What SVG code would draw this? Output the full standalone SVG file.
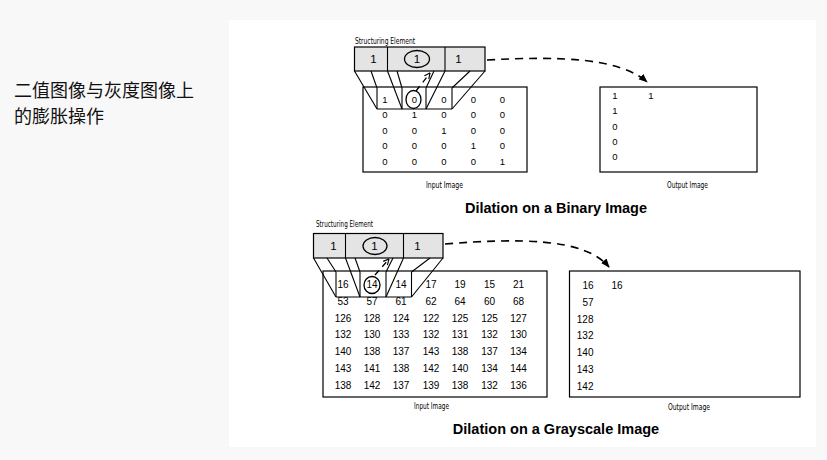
<svg xmlns="http://www.w3.org/2000/svg" width="827" height="460" viewBox="0 0 827 460">
<defs>
<style>
.bg{fill:#f8f8f8}
.panel{fill:#ffffff}
.box{fill:#ffffff;stroke:#000;stroke-width:1.2}
.se{fill:#e4e4e4;stroke:#000;stroke-width:1.2}
.ln{stroke:#000;stroke-width:1.1;fill:none}
.circ{fill:none;stroke:#000;stroke-width:1.3}
.n{font-family:"Liberation Sans",Arial,sans-serif;font-size:10px;fill:#000;text-anchor:middle}
.nb{font-family:"Liberation Sans",Arial,sans-serif;font-size:9.5px;fill:#000;text-anchor:middle}
.ne{font-family:"Liberation Sans",Arial,sans-serif;font-size:10px;fill:#000;text-anchor:end}
.sev{font-family:"Liberation Sans",Arial,sans-serif;font-size:11.5px;fill:#000;text-anchor:middle}
.small{font-family:"DejaVu Sans Condensed","Liberation Sans Narrow","Liberation Sans",sans-serif;font-size:8.5px;fill:#000}
.title{font-family:"Liberation Sans",Arial,sans-serif;font-size:14.5px;font-weight:bold;fill:#000;text-anchor:middle}
.cn{font-family:"Noto Sans CJK SC","Noto Sans",sans-serif;font-size:18px;fill:#111}
.dash{stroke:#000;stroke-width:1.6;fill:none;stroke-dasharray:8 6}
.sdash{stroke:#000;stroke-width:1.3;fill:none;stroke-dasharray:6 5}
</style>
<marker id="ah" viewBox="0 0 10 10" refX="9" refY="5" markerWidth="9" markerHeight="9" markerUnits="userSpaceOnUse" orient="auto">
<path d="M0,1 L10,5 L0,9 Z" fill="#000"/>
</marker>
<marker id="oh" viewBox="0 0 10 10" refX="9" refY="5" markerWidth="7" markerHeight="7" markerUnits="userSpaceOnUse" orient="auto">
<path d="M1,1 L9,5 L1,9" fill="none" stroke="#000" stroke-width="1.6"/>
</marker>
</defs>

<rect class="bg" x="0" y="0" width="827" height="460"/>
<rect class="panel" x="229" y="20" width="587" height="427"/>

<g id="heading">
<text class="cn" x="14" y="96.5">二值图像与灰度图像上</text>
<text class="cn" x="14" y="122.8">的膨胀操作</text>
</g>

<!-- ============ Binary ============ -->
<g id="binary-input">
<rect class="box" x="363" y="87" width="164" height="85"/>
<text class="small" x="426" y="188" textLength="37" lengthAdjust="spacingAndGlyphs">Input Image</text>
<g>
<text class="nb" x="385" y="102.5">1</text><text class="nb" x="414.5" y="102.5">0</text><text class="nb" x="444" y="102.5">0</text><text class="nb" x="473.5" y="102.5">0</text><text class="nb" x="502.5" y="102.5">0</text>
<text class="nb" x="385" y="118">0</text><text class="nb" x="414.5" y="118">1</text><text class="nb" x="444" y="118">0</text><text class="nb" x="473.5" y="118">0</text><text class="nb" x="502.5" y="118">0</text>
<text class="nb" x="385" y="133.5">0</text><text class="nb" x="414.5" y="133.5">0</text><text class="nb" x="444" y="133.5">1</text><text class="nb" x="473.5" y="133.5">0</text><text class="nb" x="502.5" y="133.5">0</text>
<text class="nb" x="385" y="149">0</text><text class="nb" x="414.5" y="149">0</text><text class="nb" x="444" y="149">0</text><text class="nb" x="473.5" y="149">1</text><text class="nb" x="502.5" y="149">0</text>
<text class="nb" x="385" y="164.5">0</text><text class="nb" x="414.5" y="164.5">0</text><text class="nb" x="444" y="164.5">0</text><text class="nb" x="473.5" y="164.5">0</text><text class="nb" x="502.5" y="164.5">1</text>
</g>
<ellipse class="circ" cx="413.5" cy="99.5" rx="7.5" ry="9"/>
</g>

<g id="binary-se">
<text class="small" x="355" y="43.5" textLength="60" lengthAdjust="spacingAndGlyphs">Structuring Element</text>
<rect class="se" x="354.5" y="47" width="130.5" height="24"/>
<line class="ln" x1="387.5" y1="47" x2="387.5" y2="71"/>
<line class="ln" x1="445" y1="47" x2="445" y2="71"/>
<text class="sev" x="373.5" y="63">1</text>
<text class="sev" x="417" y="63">1</text>
<text class="sev" x="458.5" y="63">1</text>
<ellipse class="circ" cx="417" cy="59" rx="12.5" ry="8.5"/>
<line class="ln" x1="354.5" y1="71" x2="377" y2="109"/>
<line class="ln" x1="371" y1="71" x2="377" y2="88"/>
<line class="ln" x1="387.5" y1="71" x2="402" y2="109"/>
<line class="ln" x1="397" y1="71" x2="402" y2="88"/>
<line class="ln" x1="445" y1="71" x2="426" y2="109"/>
<line class="ln" x1="434" y1="71" x2="426" y2="88"/>
<line class="ln" x1="485" y1="71" x2="452" y2="109"/>
<line class="ln" x1="470" y1="71" x2="452" y2="88"/>
<line class="ln" x1="377" y1="88" x2="377" y2="109"/>
<line class="ln" x1="402" y1="88" x2="402" y2="109"/>
<line class="ln" x1="426" y1="88" x2="426" y2="109"/>
<line class="ln" x1="452" y1="88" x2="452" y2="109"/>
<line class="ln" x1="377" y1="109" x2="452" y2="109"/>
</g>

<g id="binary-output">
<rect class="box" x="600" y="87" width="157" height="85"/>
<text class="small" x="667" y="188" textLength="41" lengthAdjust="spacingAndGlyphs">Output Image</text>
<text class="nb" x="615" y="98.5">1</text><text class="nb" x="651" y="98.5">1</text>
<text class="nb" x="615" y="113.5">1</text>
<text class="nb" x="615" y="129.5">0</text>
<text class="nb" x="615" y="144.5">0</text>
<text class="nb" x="615" y="160">0</text>
</g>

<g id="binary-title">
<text class="title" x="556" y="213">Dilation on a Binary Image</text>
</g>

<!-- ============ Grayscale ============ -->
<g id="gray-input">
<rect class="box" x="323" y="271" width="224" height="126"/>
<text class="small" x="414" y="409" textLength="35" lengthAdjust="spacingAndGlyphs">Input Image</text>
<g>
<text class="n" x="343" y="288">16</text><text class="n" x="372" y="288">14</text><text class="n" x="401" y="288">14</text><text class="n" x="431" y="288">17</text><text class="n" x="460" y="288">19</text><text class="n" x="489.5" y="288">15</text><text class="n" x="518.5" y="288">21</text>
<text class="n" x="343" y="304.8">53</text><text class="n" x="372" y="304.8">57</text><text class="n" x="401" y="304.8">61</text><text class="n" x="431" y="304.8">62</text><text class="n" x="460" y="304.8">64</text><text class="n" x="489.5" y="304.8">60</text><text class="n" x="518.5" y="304.8">68</text>
<text class="n" x="343" y="321.5">126</text><text class="n" x="372" y="321.5">128</text><text class="n" x="401" y="321.5">124</text><text class="n" x="431" y="321.5">122</text><text class="n" x="460" y="321.5">125</text><text class="n" x="489.5" y="321.5">125</text><text class="n" x="518.5" y="321.5">127</text>
<text class="n" x="343" y="338.3">132</text><text class="n" x="372" y="338.3">130</text><text class="n" x="401" y="338.3">133</text><text class="n" x="431" y="338.3">132</text><text class="n" x="460" y="338.3">131</text><text class="n" x="489.5" y="338.3">132</text><text class="n" x="518.5" y="338.3">130</text>
<text class="n" x="343" y="355">140</text><text class="n" x="372" y="355">138</text><text class="n" x="401" y="355">137</text><text class="n" x="431" y="355">143</text><text class="n" x="460" y="355">138</text><text class="n" x="489.5" y="355">137</text><text class="n" x="518.5" y="355">134</text>
<text class="n" x="343" y="371.8">143</text><text class="n" x="372" y="371.8">141</text><text class="n" x="401" y="371.8">138</text><text class="n" x="431" y="371.8">142</text><text class="n" x="460" y="371.8">140</text><text class="n" x="489.5" y="371.8">134</text><text class="n" x="518.5" y="371.8">144</text>
<text class="n" x="343" y="388.5">138</text><text class="n" x="372" y="388.5">142</text><text class="n" x="401" y="388.5">137</text><text class="n" x="431" y="388.5">139</text><text class="n" x="460" y="388.5">138</text><text class="n" x="489.5" y="388.5">132</text><text class="n" x="518.5" y="388.5">136</text>
</g>
<ellipse class="circ" cx="372" cy="285" rx="8" ry="8.5"/>
</g>

<g id="gray-se">
<text class="small" x="316" y="227" textLength="57" lengthAdjust="spacingAndGlyphs">Structuring Element</text>
<rect class="se" x="313.5" y="233.5" width="129.5" height="24.5"/>
<line class="ln" x1="345.5" y1="233.5" x2="345.5" y2="258"/>
<line class="ln" x1="403.5" y1="233.5" x2="403.5" y2="258"/>
<text class="sev" x="333.5" y="250">1</text>
<text class="sev" x="374.5" y="250">1</text>
<text class="sev" x="417.5" y="250">1</text>
<ellipse class="circ" cx="375" cy="246" rx="12" ry="8.5"/>
<line class="ln" x1="313.5" y1="258" x2="336" y2="297"/>
<line class="ln" x1="327" y1="258" x2="336" y2="272"/>
<line class="ln" x1="345.5" y1="258" x2="360" y2="297"/>
<line class="ln" x1="355" y1="258" x2="360" y2="272"/>
<line class="ln" x1="403.5" y1="258" x2="386" y2="297"/>
<line class="ln" x1="393" y1="258" x2="386" y2="272"/>
<line class="ln" x1="443" y1="258" x2="411.5" y2="297"/>
<line class="ln" x1="430" y1="258" x2="411.5" y2="272"/>
<line class="ln" x1="336" y1="272" x2="336" y2="297"/>
<line class="ln" x1="360" y1="272" x2="360" y2="297"/>
<line class="ln" x1="386" y1="272" x2="386" y2="297"/>
<line class="ln" x1="411.5" y1="272" x2="411.5" y2="297"/>
<line class="ln" x1="336" y1="297" x2="411.5" y2="297"/>
</g>

<g id="gray-output">
<rect class="box" x="569.5" y="271" width="230.5" height="126"/>
<text class="small" x="668" y="410" textLength="42" lengthAdjust="spacingAndGlyphs">Output Image</text>
<text class="ne" x="593.5" y="289.2">16</text><text class="n" x="617" y="289.2">16</text>
<text class="ne" x="593.5" y="306">57</text>
<text class="ne" x="593.5" y="322.7">128</text>
<text class="ne" x="593.5" y="339.4">132</text>
<text class="ne" x="593.5" y="356">140</text>
<text class="ne" x="593.5" y="372.7">143</text>
<text class="ne" x="593.5" y="389.5">142</text>
</g>

<g id="gray-title">
<text class="title" x="556" y="434">Dilation on a Grayscale Image</text>
</g>

<g id="connectors">
<path class="dash" d="M487,60 C560,56 620,58 647,82" marker-end="url(#ah)"/>
<path class="sdash" d="M416,91 L430,73" marker-end="url(#oh)"/>
<path class="dash" d="M445,244 C520,238 585,238 609,267" marker-end="url(#ah)"/>
<path class="sdash" d="M375,275 L389,259" marker-end="url(#oh)"/>
</g>
</svg>
